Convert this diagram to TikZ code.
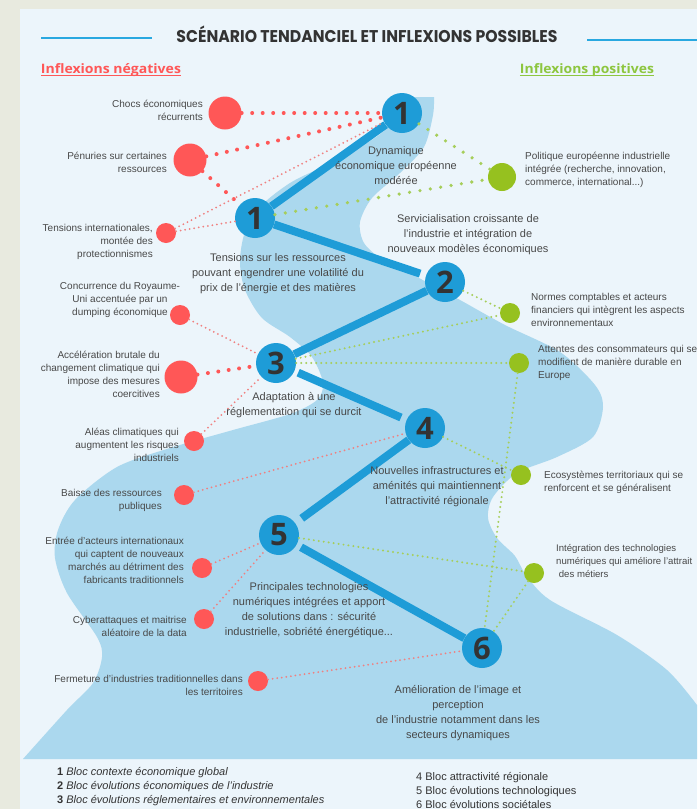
\documentclass[tikz,border=0pt]{standalone}
\usepackage{fontspec}
\usepackage{graphicx}
\setmainfont{Liberation Sans}
\newfontfamily\headfont{Poppins}
\newfontfamily\numfont{Open Sans}

\definecolor{outerbg}{RGB}{232,234,223}
\definecolor{panelbg}{RGB}{236,245,251}
\definecolor{river}{RGB}{171,216,238}
\definecolor{blocblue}{RGB}{30,156,215}
\definecolor{digitgray}{RGB}{51,51,51}
\definecolor{negred}{RGB}{255,87,87}
\definecolor{negpink}{RGB}{240,128,128}
\definecolor{posgreen}{RGB}{150,193,31}
\definecolor{poslight}{RGB}{166,206,90}
\definecolor{txtgray}{RGB}{72,72,72}
\definecolor{rulerblue}{RGB}{41,168,224}
\definecolor{headgreen}{RGB}{141,198,63}

\tikzset{
  bloc/.style={circle,fill=blocblue,minimum size=40pt,inner sep=0pt,
    text=digitgray,font=\numfont\bfseries\fontsize{31}{31}\selectfont},
  negbig/.style={circle,fill=negred,minimum size=33pt,inner sep=0pt},
  negsmall/.style={circle,fill=negred,minimum size=20pt,inner sep=0pt},
  posbig/.style={circle,fill=posgreen,minimum size=28pt,inner sep=0pt},
  possmall/.style={circle,fill=posgreen,minimum size=20pt,inner sep=0pt},
  sidetext/.style={text=txtgray,inner sep=0pt,font=\fontsize{10}{13}\selectfont},
  midtext/.style={text=txtgray,inner sep=0pt,align=center,font=\fontsize{11}{15}\selectfont},
  legendtext/.style={text=digitgray,inner sep=0pt,align=left,font=\fontsize{11}{14}\selectfont},
  chain/.style={draw=blocblue,line width=8pt},
  reddots/.style={draw=negred,line width=4pt,line cap=round,dash pattern=on 0pt off 10.5pt},
  pinkdots/.style={draw=negpink,line width=2pt,line cap=round,dash pattern=on 0pt off 4.6pt},
  greendots/.style={draw=poslight,line width=3.6pt,line cap=round,dash pattern=on 0pt off 10.5pt},
  limedots/.style={draw=poslight,line width=2.2pt,line cap=round,dash pattern=on 0pt off 5pt},
}

\begin{document}
\begin{tikzpicture}[x=1pt,y=-1pt]
  \useasboundingbox (0,0) rectangle (697,809);
  \fill[outerbg] (0,0) rectangle (697,809);
  \fill[panelbg] (20,9) rectangle (697,809);

  % the river
  \fill[river] (408,97) -- (434,97)
    -- plot[smooth] coordinates {(434,97) (433,115) (424,147) (400,173) (372,198)
       (360,222) (364,243) (383,260) (417,277) (460,300) (505,325) (560,352)
       (595,385) (603,407) (593,437) (557,457) (517,473) (493,497) (488,518)
       (497,538) (515,556) (526,575) (550,600) (617,635) (667,670) (697,705)}
    -- (697,759) -- (23,759)
    -- plot[smooth] coordinates {(23,759) (67,710) (93,683) (102,657) (97,637)
       (67,593) (55,558) (58,530) (75,500) (117,467) (170,448) (233,430)
       (290,414) (317,400) (323,383) (312,357) (290,337) (262,318) (245,290)
       (240,262) (245,232) (262,205) (290,183) (320,168) (355,150) (385,130)
       (405,101) (408,97)}
    -- cycle;

  % heading
  \node[text=digitgray,anchor=base,inner sep=0pt] (title) at (367,42)
    {\headfont\bfseries\fontsize{17}{17}\selectfont\resizebox{381pt}{\height}{SCÉNARIO TENDANCIEL ET INFLEXIONS POSSIBLES}};
  \draw[rulerblue,line width=2pt] (41,38) -- (152,38);
  \draw[rulerblue,line width=2pt] (587,40) -- (697,40);

  \node[text=negred,anchor=base,inner sep=0pt] (neghead) at (111,73)
    {\numfont\bfseries\fontsize{13}{13}\selectfont\resizebox{140pt}{\height}{Inflexions négatives}};
  \node[text=headgreen,anchor=base,inner sep=0pt] (poshead) at (587,73)
    {\numfont\bfseries\fontsize{13}{13}\selectfont\resizebox{134pt}{\height}{Inflexions positives}};
  \draw[negred,line width=1pt] ([yshift=-2.5pt]neghead.base west) -- ([yshift=-2.5pt]neghead.base east);
  \draw[headgreen,line width=1pt] ([yshift=-2.5pt]poshead.base west) -- ([yshift=-2.5pt]poshead.base east);

  \begin{scope}[every node/.style=bloc]
    \node (1a) at (402,113) {1};
    \node (1b) at (255,218) {1};
    \node (2)  at (445,282) {2};
    \node (3)  at (276,363) {3};
    \node (4)  at (425,428) {4};
    \node (5)  at (279,535) {5};
    \node (6)  at (482,648) {6};
  \end{scope}

  \begin{scope}[every node/.style=negsmall]
    \node[negbig] (n1) at (225,113) {};
    \node[negbig] (n2) at (190,160) {};
    \node (n3)  at (166,233) {};
    \node (n4)  at (180,315) {};
    \node[negbig] (n5) at (181,377) {};
    \node (n6)  at (194,441) {};
    \node (n7)  at (184,495) {};
    \node (n8)  at (202,568) {};
    \node (n9)  at (204,619) {};
    \node (n10) at (258,681) {};
  \end{scope}

  \begin{scope}[every node/.style=possmall]
    \node[posbig] (p1) at (502,177) {};
    \node (p2) at (510,313) {};
    \node (p3) at (519,363) {};
    \node (p4) at (521,475) {};
    \node (p5) at (534,573) {};
  \end{scope}

  \begin{scope}[every edge/.style={draw,chain}]
    \path (1a) edge (1b);
    \path (1b) edge[shorten >=6pt] (2);
    \path (2)  edge (3);
    \path (3)  edge[shorten <=4pt,shorten >=6pt] (4);
    \path (4)  edge[shorten >=8pt] (5);
    \path (5)  edge[shorten <=5pt] (6);
  \end{scope}

  \begin{scope}[every edge/.style={draw,reddots}]
    \path (n1) edge (1a);
    \path (n2) edge (1a);
    \path (n2) edge (1b);
    \path (n5) edge (3);
  \end{scope}

  \begin{scope}[every edge/.style={draw,pinkdots}]
    \path (n3)  edge (1a);
    \path (n3)  edge (1b);
    \path (n4)  edge (3);
    \path (n6)  edge (3);
    \path (n7)  edge (4);
    \path (n8)  edge (5);
    \path (n9)  edge (5);
    \path (n10) edge (6);
  \end{scope}

  \begin{scope}[every edge/.style={draw,greendots}]
    \path (1a) edge (p1);
    \path (1b) edge (p1);
  \end{scope}

  \begin{scope}[every edge/.style={draw,limedots}]
    \path (2)  edge (p2);
    \path (3)  edge (p2);
    \path (3)  edge (p3);
    \path (p3) edge (6);
    \path (4)  edge (p4);
    \path (5)  edge (p5);
    \path (p5) edge (6);
  \end{scope}

  % negative inflexions
  \begin{scope}[every node/.style={sidetext,align=right,anchor=east}]
    \node (tn1)  at (203,110) {Chocs économiques\\récurrents};
    \node (tn2)  at (167,162) {Pénuries sur certaines\\ressources};
    \node (tn3)  at (153,242) {Tensions internationales,\\montée des\\protectionnismes};
    \node[align=center,anchor=center] (tn4) at (120,300) {Concurrence du Royaume-\\Uni accentuée par un\\dumping économique};
    \node (tn5)  at (160,374) {Accélération brutale du\\changement climatique qui\\impose des mesures\\coercitives\ };
    \node (tn6)  at (179,445) {Aléas climatiques qui\\augmentent les risques\\industriels};
    \node (tn7)  at (162,500) {Baisse des ressources\\publiques};
    \node (tn8)  at (184,560) {Entrée d'acteurs internationaux\\qui captent de nouveaux\\marchés au détriment des\\fabricants traditionnels};
    \node (tn9)  at (187,626) {Cyberattaques et maitrise\\aléatoire de la data};
    \node (tn10) at (243,685) {Fermeture d'industries traditionnelles dans\\les territoires};
  \end{scope}

  % positive inflexions
  \begin{scope}[every node/.style={sidetext,align=left,anchor=west}]
    \node (tp1) at (525,170) {Politique européenne industrielle\\intégrée (recherche, innovation,\\commerce, international...)};
    \node (tp2) at (531,310) {Normes comptables et acteurs\\financiers qui intègrent les aspects\\environnementaux};
    \node (tp3) at (538,363) {Attentes des consommateurs qui se\\modifient de manière durable en\\Europe};
    \node (tp4) at (544,482) {Ecosystèmes territoriaux qui se\\renforcent et se généralisent};
    \node[font=\fontsize{9.6}{13}\selectfont] (tp5) at (556,561) {Intégration des technologies\\numériques qui améliore l'attrait\\\ des métiers};
  \end{scope}

  % trend
  \begin{scope}[every node/.style=midtext]
    \node (t1a) at (396,166) {Dynamique\\économique européenne\\modérée};
    \node (t2)  at (468,235) {Servicialisation croissante de\\l'industrie et intégration de\\nouveaux modèles économiques};
    \node (t1b) at (278,274) {Tensions sur les ressources\\pouvant engendrer une volatilité du\\prix de l'énergie et des matières};
    \node (t3)  at (294,405) {Adaptation à une\\réglementation qui se durcit};
    \node (t4)  at (437,487) {Nouvelles infrastructures et\\aménités qui maintiennent\\l'attractivité régionale};
    \node (t5)  at (309,610) {Principales technologies\\numériques intégrées et apport\\de solutions dans : sécurité\\industrielle, sobriété énergétique...};
    \node (t6)  at (458,713) {Amélioration de l'image et\\perception\\de l'industrie notamment dans les\\secteurs dynamiques};
  \end{scope}

  % legend
  \node[legendtext,anchor=west] (legl) at (57,787)
    {\textbf{1} \textit{Bloc contexte économique global}\\
     \textbf{2} \textit{Bloc évolutions économiques de l'industrie}\\
     \textbf{3} \textit{Bloc évolutions réglementaires et environnementales}};
  \node[legendtext,anchor=west] (legr) at (416,790)
    {4 Bloc attractivité régionale\\
     5 Bloc évolutions technologiques\\
     6 Bloc évolutions sociétales};
\end{tikzpicture}
\end{document}
